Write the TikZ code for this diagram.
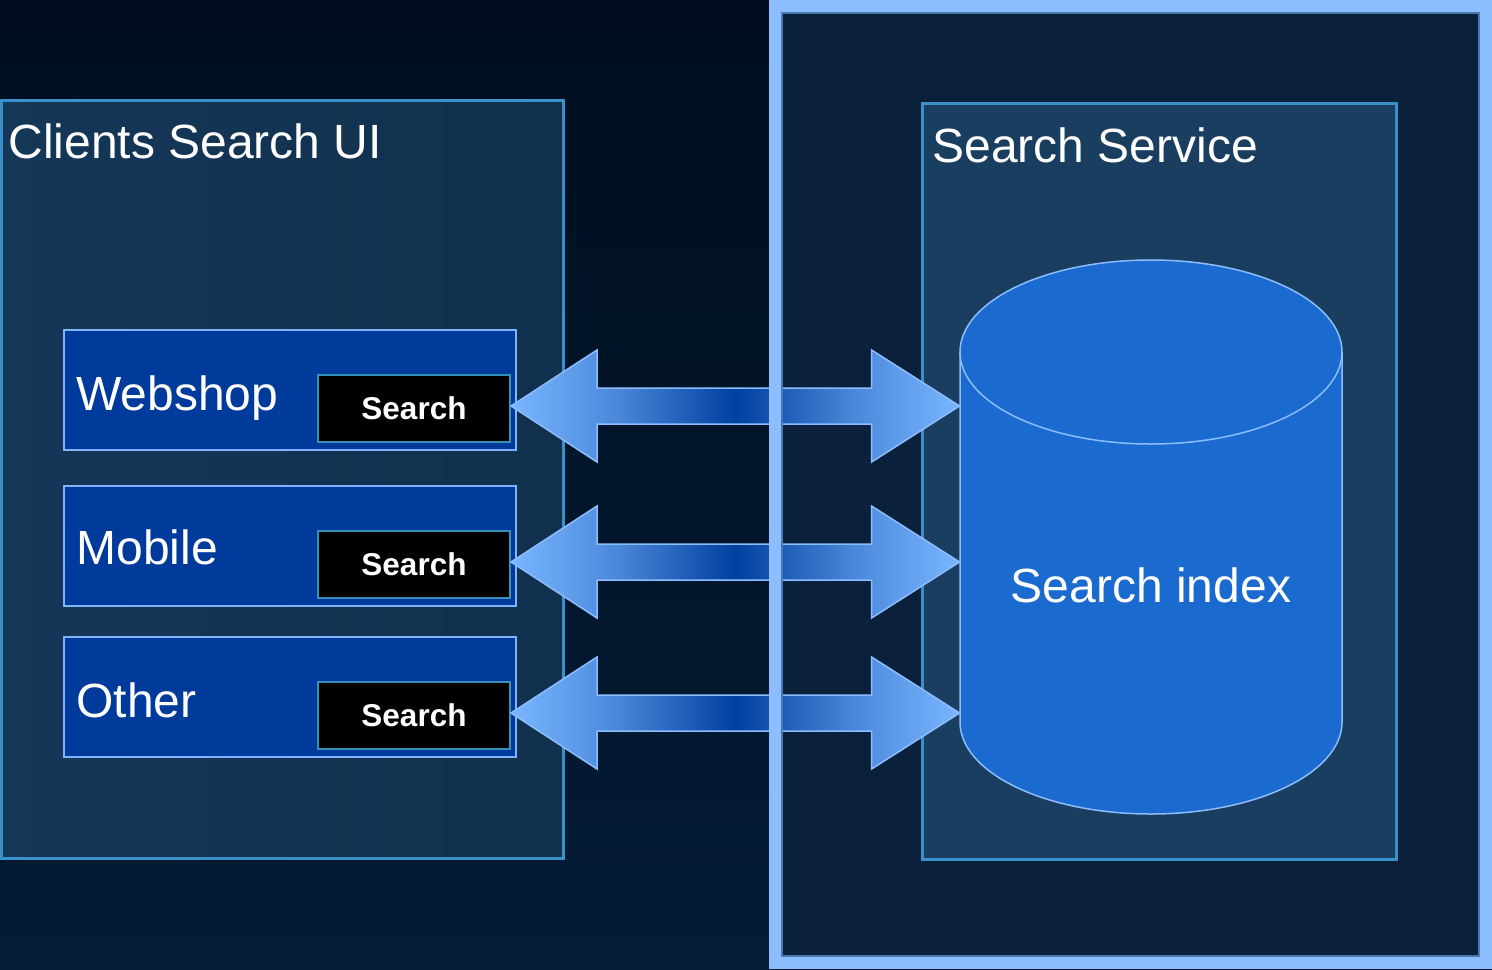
\documentclass[tikz,border=0pt]{standalone}
\usepackage{fontspec}
\setmainfont{Liberation Sans}
\usetikzlibrary{calc}

\definecolor{bgtop}{HTML}{000E1F}
\definecolor{bgbot}{HTML}{041C36}
\definecolor{frameline}{HTML}{8BBDFF}
\definecolor{frameedge}{HTML}{4A78AA}
\definecolor{framefill}{HTML}{0B203A}
\definecolor{groupline}{HTML}{3A90C8}
\definecolor{clientfillL}{HTML}{153758}
\definecolor{clientfillR}{HTML}{11304D}
\definecolor{servicefill}{HTML}{1A3E60}
\definecolor{appfill}{HTML}{003A9B}
\definecolor{appline}{HTML}{80B2FF}
\definecolor{searchline}{HTML}{3590B8}
\definecolor{cylfill}{HTML}{1A6AD0}
\definecolor{arrowend}{HTML}{7AB6FF}
\definecolor{arrowmid}{HTML}{0040A0}

% horizontal blend, dark in the middle, light at both tips
\pgfdeclarehorizontalshading{arrowblend}{100bp}{%
  color(0bp)=(arrowend); color(25bp)=(arrowend);
  color(37bp)=(arrowend!60!arrowmid); color(50bp)=(arrowmid);
  color(63bp)=(arrowend!60!arrowmid);
  color(75bp)=(arrowend); color(100bp)=(arrowend)}

\tikzset{
  group/.style={draw=groupline, line width=1.5pt, inner sep=0pt},
  appbox/.style={draw=appline, fill=appfill, line width=1pt,
    minimum width=226pt, minimum height=60pt, inner sep=0pt},
  searchbox/.style={draw=searchline, fill=black, line width=1pt,
    minimum width=96pt, minimum height=33.5pt, inner sep=0pt,
    text=white, font=\fontsize{15.75}{18}\selectfont\bfseries},
  biglabel/.style={anchor=base west, inner sep=0pt, text=white,
    font=\fontsize{24}{28}\selectfont},
  flowarrow/.style={draw=frameline, line width=0.75pt, line join=miter,
    shading=arrowblend},
}

% double-headed block arrow between two tips
\newcommand{\blockarrow}[2]{%
  \path[flowarrow] (#1) -- ($(#1)+(86,-56)$) -- ($(#1)+(86,-18)$)
    -- ($(#2)+(-88,-18)$) -- ($(#2)+(-88,-56)$) -- (#2)
    -- ($(#2)+(-88,56)$) -- ($(#2)+(-88,18)$)
    -- ($(#1)+(86,18)$) -- ($(#1)+(86,56)$) -- cycle;}

\begin{document}
\begin{tikzpicture}[x=0.5pt, y=-0.5pt]
\useasboundingbox (0,0) rectangle (1492,969);

% background
\shade[top color=bgtop, bottom color=bgbot] (0,0) rectangle (1492,969);

% service area panel
\fill[framefill] (775.5,6.5) rectangle (1485.5,962.5);

% client group
\shade[left color=clientfillL, right color=clientfillR] (1,101) rectangle (563,858);
\node[group, minimum width=281pt, minimum height=379pt] (clients) at (282,479.5) {};
\node[biglabel] (clientsT) at (8,158) {Clients Search UI};

% service group
\node[group, fill=servicefill, minimum width=237pt, minimum height=378pt] (service) at (1159,481) {};
\node[biglabel] (serviceT) at (932,162) {Search Service};

% search index cylinder
\node[minimum width=191pt, minimum height=277pt, inner sep=0pt] (idx) at (1151,537) {};
\filldraw[fill=cylfill, draw=frameline, line width=0.75pt]
  (960,352) -- (960,722)
  arc[start angle=180, end angle=360, x radius=95.5pt, y radius=46pt]
  -- (1342,352)
  arc[start angle=0, end angle=180, x radius=95.5pt, y radius=46pt] -- cycle;
\draw[frameline, line width=0.75pt] (960,352)
  arc[start angle=180, end angle=360, x radius=95.5pt, y radius=46pt];
\node[text=white, font=\fontsize{24}{28}\selectfont, inner sep=0pt] (idxT) at (1151,585) {Search index};

% client applications
\node[appbox] (web) at (290,390) {};
\node[biglabel] (webT) at (76,410) {Webshop};
\node[searchbox] (sb1) at (414,408.5) {Search};

\node[appbox] (mob) at (290,546) {};
\node[biglabel] (mobT) at (76,564) {Mobile};
\node[searchbox] (sb2) at (414,564) {Search};

\node[appbox] (oth) at (290,697) {};
\node[biglabel] (othT) at (76,717) {Other};
\node[searchbox] (sb3) at (414,715.5) {Search};

% request / response arrows
\coordinate (l1) at ($(sb1.east)+(0,-2.5)$);
\coordinate (r1) at (l1 -| idx.west);
\coordinate (l2) at ($(sb2.east)+(0,-2)$);
\coordinate (r2) at (l2 -| idx.west);
\coordinate (l3) at ($(sb3.east)+(0,-2.5)$);
\coordinate (r3) at (l3 -| idx.west);
\blockarrow{l1}{r1}
\blockarrow{l2}{r2}
\blockarrow{l3}{r3}

% service area frame drawn over the arrows
\draw[frameline, line width=6.5pt] (775.5,6.5) rectangle (1485.5,962.5);
\draw[frameedge, line width=0.75pt] (782,13) rectangle (1479,956);
\end{tikzpicture}
\end{document}
